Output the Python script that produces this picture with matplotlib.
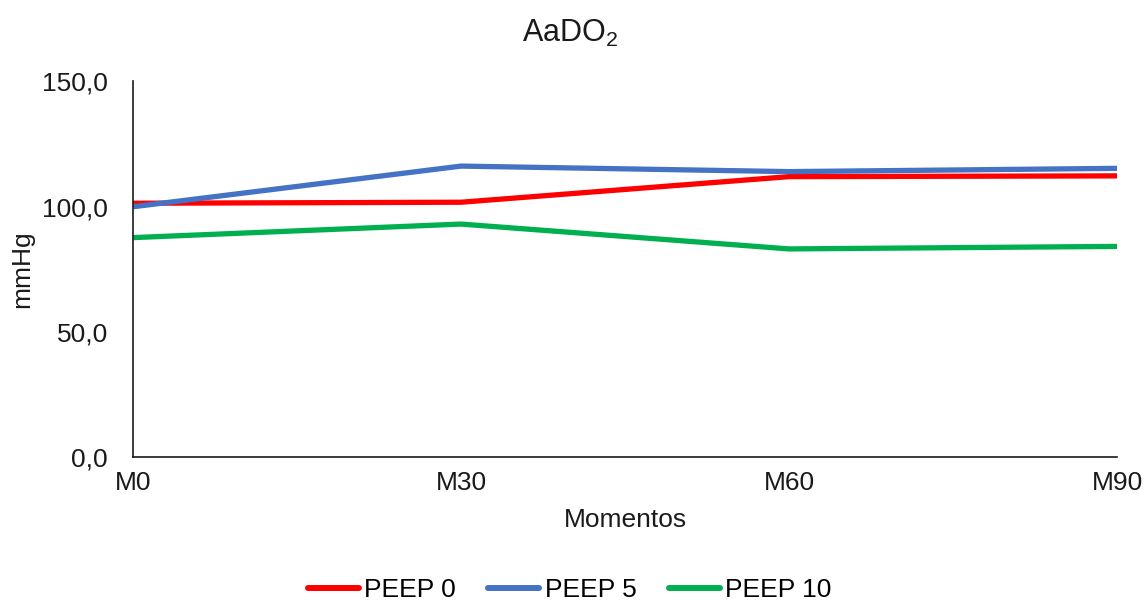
import matplotlib
matplotlib.use("Agg")
import matplotlib.pyplot as plt
from matplotlib.ticker import FuncFormatter

plt.rcParams["font.family"] = ["Liberation Sans", "DejaVu Sans"]
plt.rcParams["mathtext.fontset"] = "custom"
plt.rcParams["mathtext.rm"] = "Liberation Sans"
plt.rcParams["mathtext.it"] = "Liberation Sans"

momentos = ["M0", "M30", "M60", "M90"]
peep0 = [101.3, 101.7, 111.9, 112.2]
peep5 = [99.9, 116.1, 113.9, 115.2]
peep10 = [87.6, 93.0, 83.1, 84.1]

series = [
    ("PEEP 0", peep0, "#FF0000"),
    ("PEEP 5", peep5, "#4472C4"),
    ("PEEP 10", peep10, "#00B050"),
]

fig = plt.figure(figsize=(11.44, 6.01), dpi=100)
ax = fig.add_axes([0.1163, 0.2388, 0.8601, 0.6264])

x = list(range(len(momentos)))
for name, vals, color in series:
    ax.plot(x, vals, color=color, lw=3.8, label=name, solid_capstyle="butt")

ax.set_xlim(0, len(momentos) - 1)
ax.set_ylim(0, 150)
ax.set_yticks([0, 50, 100, 150])
ax.yaxis.set_major_formatter(FuncFormatter(lambda v, p: f"{v:.1f}".replace(".", ",")))
ax.set_xticks(x)
ax.set_xticklabels(momentos)

for s in ["top", "right"]:
    ax.spines[s].set_visible(False)
for s in ["left", "bottom"]:
    ax.spines[s].set_color("#1a1a1a")
    ax.spines[s].set_linewidth(1.2)

ax.tick_params(axis="both", length=0, labelsize=19, colors="#1a1a1a")
ax.tick_params(axis="x", pad=10)
ax.tick_params(axis="y", pad=18)

ax.set_xlabel("Momentos", fontsize=19, color="#1a1a1a", labelpad=9)
ax.set_ylabel("mmHg", fontsize=19, color="#1a1a1a", labelpad=6)
fig.text(0.498, 1 - 42 / 601, r"AaDO$_2$", fontsize=22, ha="center",
         va="baseline", color="#1a1a1a")

leg = fig.legend(loc="center", bbox_to_anchor=(0.498, 1 - 590 / 601), ncol=3,
                 frameon=False, fontsize=19, handlelength=1.93, handletextpad=0.2,
                 columnspacing=1.22, borderpad=0, borderaxespad=0)
for h in leg.get_lines():
    h.set_linewidth(4.3)
    h.set_solid_capstyle("round")

fig.savefig("out.png", dpi=100)
